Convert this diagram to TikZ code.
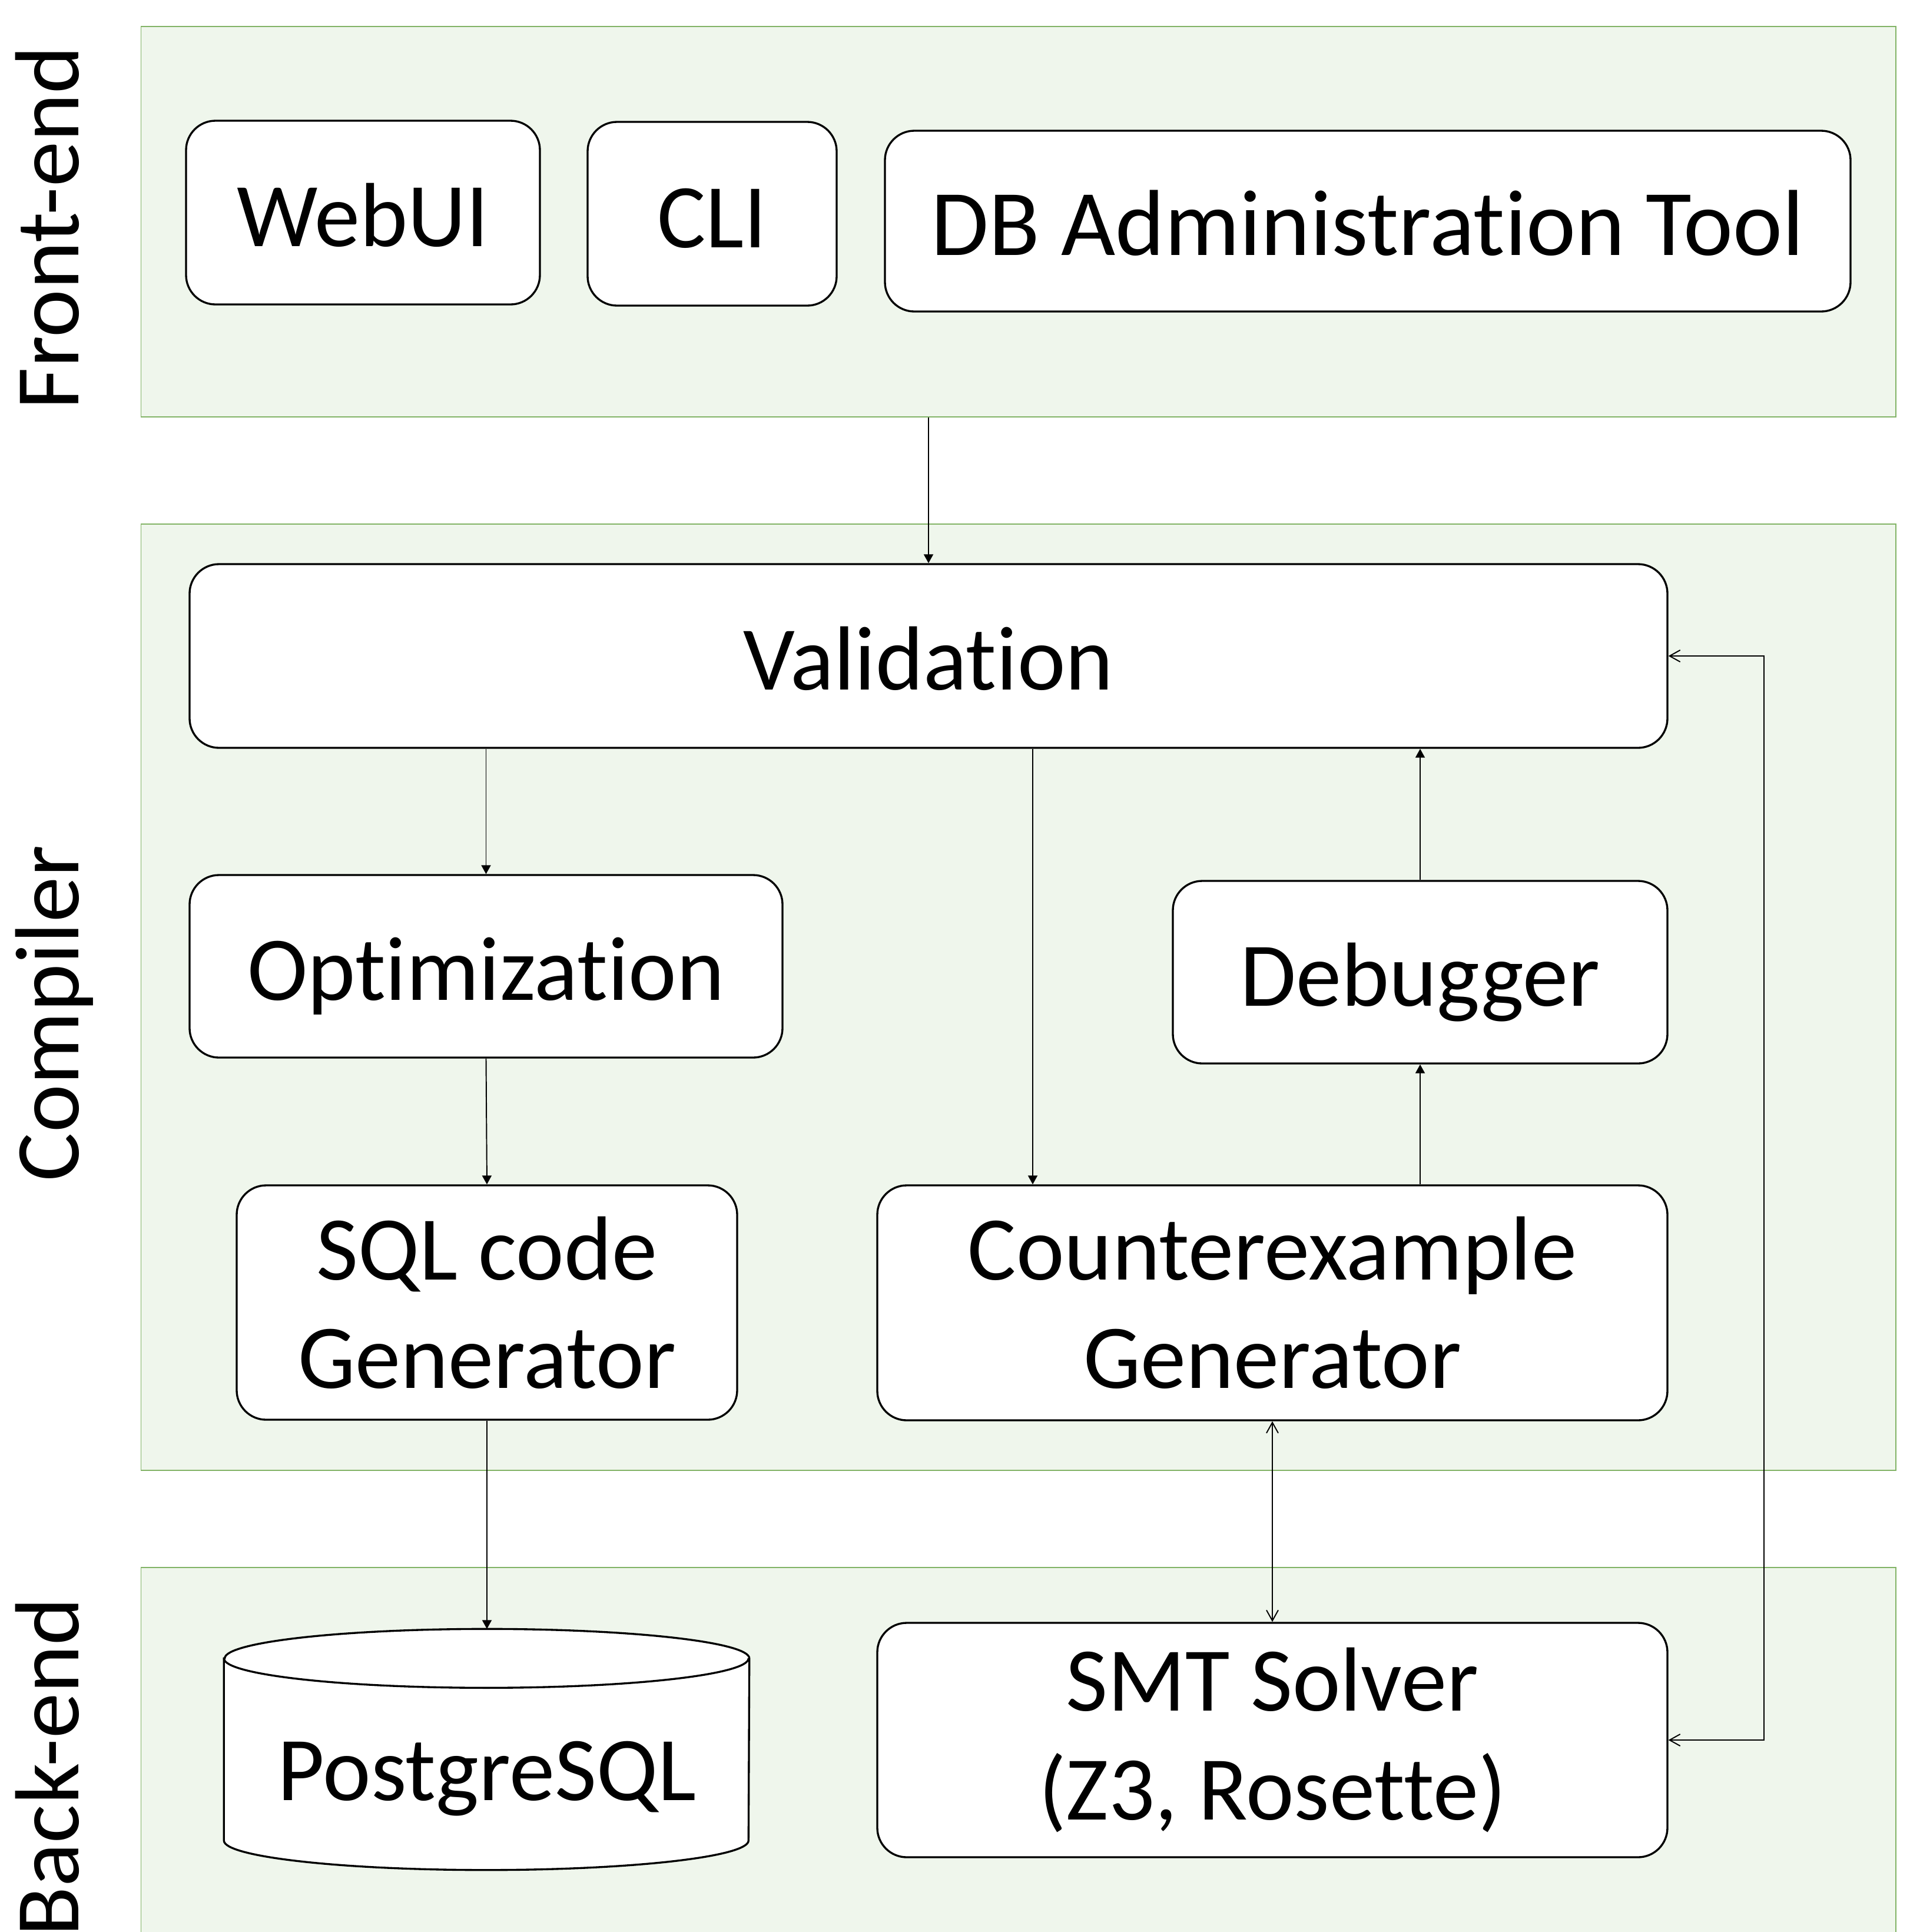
\documentclass[tikz,border=0pt]{standalone}
\usepackage{fontspec}
\setmainfont{Carlito}[Ligatures=NoCommon]
\usetikzlibrary{arrows.meta,calc}
\definecolor{panelfill}{RGB}{239,246,236}
\definecolor{paneldraw}{RGB}{130,179,102}
\newcommand\labelfont{\fontsize{44}{52.4}\selectfont}
\newcommand\widelabelfont{\fontsize{45.3}{54}\selectfont}
\begin{document}
\begin{tikzpicture}[x=1cm,y=1cm,
  panel/.style={draw=paneldraw, fill=panelfill, line width=0.45pt, inner sep=0pt, anchor=north west},
  box/.style={draw=black, fill=white, rounded corners=0.5cm, line width=0.95pt, inner sep=0pt, align=center, font=\labelfont},
  oneline/.style={text height=1.15cm, text depth=0pt},
  layer/.style={rotate=90, anchor=base, inner sep=0pt, font=\labelfont},
  arr/.style={line width=0.55pt, -{Triangle[length=0.15cm,width=0.16cm]}},
  biarr/.style={line width=0.55pt, {Straight Barb[length=0.18cm,width=0.2cm]}-{Straight Barb[length=0.18cm,width=0.2cm]}}]
\useasboundingbox (0,0) rectangle (32.44,-32.81);
\clip (0,0) rectangle (32.44,-32.81);

% layer panels
\node[panel, minimum width=29.804cm, minimum height=6.63cm] (front) at (2.386,-0.44) {};
\node[panel, minimum width=29.804cm, minimum height=16.07cm] (comp) at (2.386,-8.89) {};
\node[panel, minimum width=29.804cm, minimum height=7.2cm] (back) at (2.386,-26.61) {};

% layer titles
\node[layer] (tfront) at (1.33,-3.87) {Front-end};
\node[layer] (tcomp) at (1.33,-17.21) {Compiler};
\node[layer] (tback) at (1.33,-30.01) {Back-end};

% front-end tools
\node[box, oneline, minimum width=6.01cm, minimum height=3.12cm] (web) at (6.165,-3.61) {WebUI};
\node[box, oneline, minimum width=4.23cm, minimum height=3.12cm] (cli) at (12.095,-3.63) {CLI};
\node[box, oneline, font=\widelabelfont, minimum width=16.4cm, minimum height=3.07cm] (db) at (23.23,-3.755) {DB Administration Tool};

% compiler stages
\node[box, oneline, minimum width=25.1cm, minimum height=3.12cm] (val) at (15.77,-11.14) {Validation};
\node[box, oneline, minimum width=10.07cm, minimum height=3.1cm] (opt) at (8.255,-16.41) {Optimization};
\node[box, oneline, minimum width=8.4cm, minimum height=3.1cm] (dbg) at (24.12,-16.51) {Debugger};
\node[box, minimum width=8.5cm, minimum height=3.98cm] (sql) at (8.27,-22.12) {SQL code\\Generator};
\node[box, minimum width=13.42cm, minimum height=3.99cm] (cex) at (21.61,-22.125) {Counterexample\\Generator};

% back-end
\node[box, minimum width=13.42cm, minimum height=3.98cm] (smt) at (21.61,-29.55) {SMT Solver\\(Z3, Rosette)};
\node[minimum width=8.91cm, minimum height=4.08cm, inner sep=0pt] (pg) at (8.265,-29.71) {};
\draw[line width=0.95pt, fill=white]
  ([yshift=-0.5cm]pg.north west) -- ([yshift=0.5cm]pg.south west)
  arc (180:360:4.455 and 0.5) -- ([yshift=-0.5cm]pg.north east)
  arc (0:180:4.455 and 0.5) -- cycle;
\draw[line width=0.95pt] ([yshift=-0.5cm]pg.north west) arc (180:360:4.455 and 0.5);
\node[font=\labelfont, inner sep=0pt, text height=1.0cm, text depth=0pt] (pgtext) at (8.27,-30.07) {PostgreSQL};

% connectors
\coordinate (vx) at (17.54,-12.7);
\coordinate (loop) at (29.96,-20);
\draw[arr] (front.south -| val.north) -- (val.north);
\draw[arr] (val.south -| opt.north) -- (opt.north);
\draw[arr] (val.south -| vx) -- (cex.north -| vx);
\draw[arr] (opt.south) -- (sql.north);
\draw[arr] (cex.north -| dbg.south) -- (dbg.south);
\draw[arr] (dbg.north) -- (dbg.north |- val.south);
\draw[arr] (sql.south) -- (sql.south |- pg.north);
\draw[biarr] (cex.south) -- (smt.north);
\draw[biarr] (smt.east) -- (smt.east -| loop) -- (val.east -| loop) -- (val.east);
\end{tikzpicture}
\end{document}
